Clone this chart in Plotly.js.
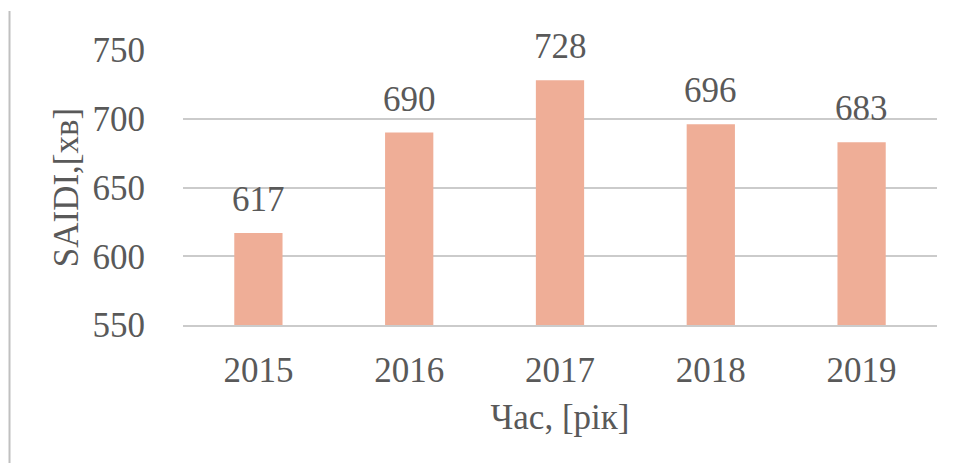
<!DOCTYPE html>
<html>
<head>
<meta charset="utf-8">
<script src="https://cdn.plot.ly/plotly-3.0.1.min.js"></script>
<style>
html,body{margin:0;padding:0;background:#fff;}
#chart{width:953px;height:468px;}
</style>
</head>
<body>
<div id="chart"></div>
<script>
const years = ["2015", "2016", "2017", "2018", "2019"];
const saidi = [617, 690, 728, 696, 683];
const yTicks = [550, 600, 650, 700, 750];
const xTitle = "Час, [рік]";
const yTitle = "SAIDI,[хв]";

const F = () => ({family: "'Liberation Serif', 'Times New Roman', serif", size: 35, color: "#595959"});
const gridColor = "#cbcbcb";

const trace = {
  type: "bar",
  x: years,
  y: saidi,
  marker: {color: "#EFAE97"},
  hoverinfo: "none"
};

const annotations = years.map((yr, i) => ({
  x: i, y: saidi[i], xref: "x", yref: "y",
  text: String(saidi[i]), showarrow: false,
  yanchor: "bottom", yshift: 12,
  font: F()
}));

const layout = {
  width: 953, height: 468,
  margin: {l: 183, r: 16, t: 50, b: 143},
  paper_bgcolor: "#fff", plot_bgcolor: "#fff",
  font: F(),
  showlegend: false,
  bargap: 0.68,
  xaxis: {
    type: "category",
    range: [-0.5, 4.5],
    showgrid: false,
    showline: true, linecolor: gridColor, linewidth: 2,
    ticks: "outside", ticklen: 13, tickcolor: "rgba(0,0,0,0)",
    tickfont: F(),
    title: {text: xTitle, font: F(), standoff: 15}
  },
  yaxis: {
    range: [550, 750],
    tickvals: yTicks,
    showgrid: true, gridcolor: gridColor, gridwidth: 2,
    zeroline: false, showline: false,
    ticks: "outside", ticklen: 30, tickcolor: "rgba(0,0,0,0)",
    tickfont: F(),
    title: {text: yTitle, font: F(), standoff: 3}
  },
  annotations: annotations,
  shapes: [{
    type: "line", xref: "paper", yref: "paper",
    x0: -0.2301, x1: -0.2301, y0: -0.5018, y1: 1.1418,
    line: {color: "#c0c0c0", width: 2}
  }]
};

Plotly.newPlot("chart", [trace], layout, {staticPlot: true, displayModeBar: false});
</script>
</body>
</html>
